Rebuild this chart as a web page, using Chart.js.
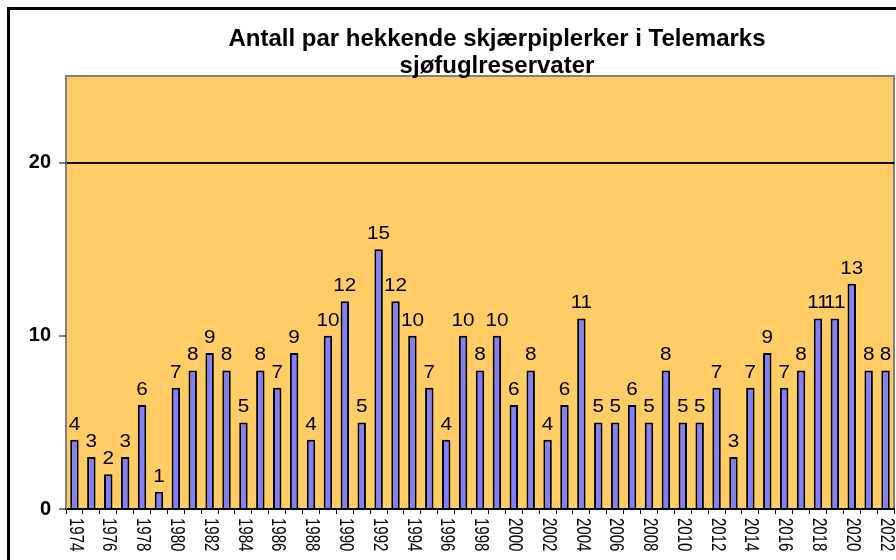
<!DOCTYPE html>
<html>
<head>
<meta charset="utf-8">
<script src="https://cdn.jsdelivr.net/npm/chart.js@4"></script>
<style>
  html, body { margin: 0; padding: 0; background: #fff; overflow: hidden; }
  #frame {
    position: absolute; left: 7px; top: 7px; width: 1100px; height: 700px;
    border-left: 3px solid #000; border-top: 3px solid #000;
  }
  #title {
    position: absolute; left: 0; top: 24px; width: 994px; text-align: center;
    font: bold 24px Arial, "Liberation Sans", sans-serif; line-height: 27px; color: #000;
  }
  #myBarChart { position: absolute; left: 0; top: 0; }
</style>
</head>
<body>
<div id="frame"></div>
<canvas id="myBarChart" width="896" height="552"></canvas>
<div id="title">Antall par hekkende skjærpiplerker i Telemarks<br>sjøfuglreservater</div>
<script>
var years = ['1974', '1975', '1976', '1977', '1978', '1979', '1980', '1981', '1982', '1983',
             '1984', '1985', '1986', '1987', '1988', '1989', '1990', '1991', '1992', '1993',
             '1994', '1995', '1996', '1997', '1998', '1999', '2000', '2001', '2002', '2003',
             '2004', '2005', '2006', '2007', '2008', '2009', '2010', '2011', '2012', '2013',
             '2014', '2015', '2016', '2017', '2018', '2019', '2020', '2021', '2022'];
var pairs = [4, 3, 2, 3, 6, 1, 7, 8, 9, 8,
             5, 8, 7, 9, 4, 10, 12, 5, 15, 12,
             10, 7, 4, 10, 8, 10, 6, 8, 4, 6,
             11, 5, 5, 6, 5, 8, 5, 5, 7, 3,
             7, 9, 7, 8, 11, 11, 13, 8, 8];
var yTicks = [0, 10, 20];
var yMax = 25;

var font = 'Arial, "Liberation Sans", sans-serif';

// orange plot area with a grey frame
var plotBackground = {
    id: 'plotBackground',
    beforeDraw: function (chart) {
        var ctx = chart.ctx, a = chart.chartArea;
        ctx.save();
        ctx.fillStyle = '#ffcc66';
        ctx.fillRect(a.left, a.top, a.right - a.left, a.bottom - a.top);
        ctx.strokeStyle = '#808080';
        ctx.lineWidth = 2;
        ctx.strokeRect(a.left, a.top, a.right - a.left, a.bottom - a.top);
        ctx.restore();
    }
};

// number of pairs above each bar
var valueLabels = {
    id: 'valueLabels',
    afterDatasetsDraw: function (chart) {
        var ctx = chart.ctx;
        chart.getDatasetMeta(0).data.forEach(function (bar, i) {
            ctx.save();
            ctx.translate(bar.x, bar.y - 10);
            ctx.scale(1.15, 1);
            ctx.font = '18px ' + font;
            ctx.fillStyle = '#000';
            ctx.textAlign = 'center';
            ctx.textBaseline = 'alphabetic';
            ctx.fillText(String(chart.data.datasets[0].data[i]), 0, 0);
            ctx.restore();
        });
    }
};

// every second year, turned to read downwards
var yearLabels = {
    id: 'yearLabels',
    afterDraw: function (chart) {
        var ctx = chart.ctx, xs = chart.scales.x;
        chart.data.labels.forEach(function (year, i) {
            if (i % 2) return;
            ctx.save();
            ctx.translate(xs.getPixelForTick(i) + 0.5, xs.top + 9);
            ctx.rotate(Math.PI / 2);
            ctx.scale(1, 1.3);
            ctx.font = '15px ' + font;
            ctx.fillStyle = '#000';
            ctx.textAlign = 'left';
            ctx.textBaseline = 'middle';
            ctx.fillText(year, 0, 0);
            ctx.restore();
        });
    }
};

var ctx = document.getElementById('myBarChart').getContext('2d');

var myBarChart = new Chart(ctx, {
    type: 'bar',
    data: {
        labels: years,
        datasets: [{
            label: 'Antall par',
            data: pairs,
            backgroundColor: '#8080ff',
            borderColor: '#000',
            borderWidth: 2,
            borderSkipped: 'start',
            barPercentage: 0.5,
            categoryPercentage: 1
        }]
    },
    options: {
        responsive: false,
        animation: false,
        devicePixelRatio: 1,
        layout: {
            padding: { top: 76, right: 2, left: 0, bottom: 0 }
        },
        scales: {
            x: {
                ticks: { display: false, autoSkip: false },
                grid: {
                    offset: true,
                    drawOnChartArea: false,
                    tickLength: 5,
                    tickColor: '#000',
                    color: '#000'
                },
                border: { color: '#000', width: 2 },
                afterFit: function (scale) { scale.height = 43; }
            },
            y: {
                min: 0,
                max: yMax,
                afterBuildTicks: function (scale) {
                    scale.ticks = yTicks.map(function (v) { return { value: v }; });
                },
                ticks: {
                    color: '#000',
                    padding: 8,
                    font: { family: font, size: 20, weight: 'bold' }
                },
                grid: {
                    color: function (c) { return c.tick && c.tick.value === 20 ? '#000' : 'rgba(0,0,0,0)'; },
                    lineWidth: 2,
                    tickLength: 7,
                    tickColor: '#000',
                    tickWidth: 1
                },
                border: { color: '#808080', width: 1 },
                afterFit: function (scale) { scale.width = 66; }
            }
        },
        plugins: {
            legend: { display: false },
            title: { display: false },
            tooltip: { enabled: false }
        }
    },
    plugins: [plotBackground, valueLabels, yearLabels]
});
</script>
</body>
</html>
